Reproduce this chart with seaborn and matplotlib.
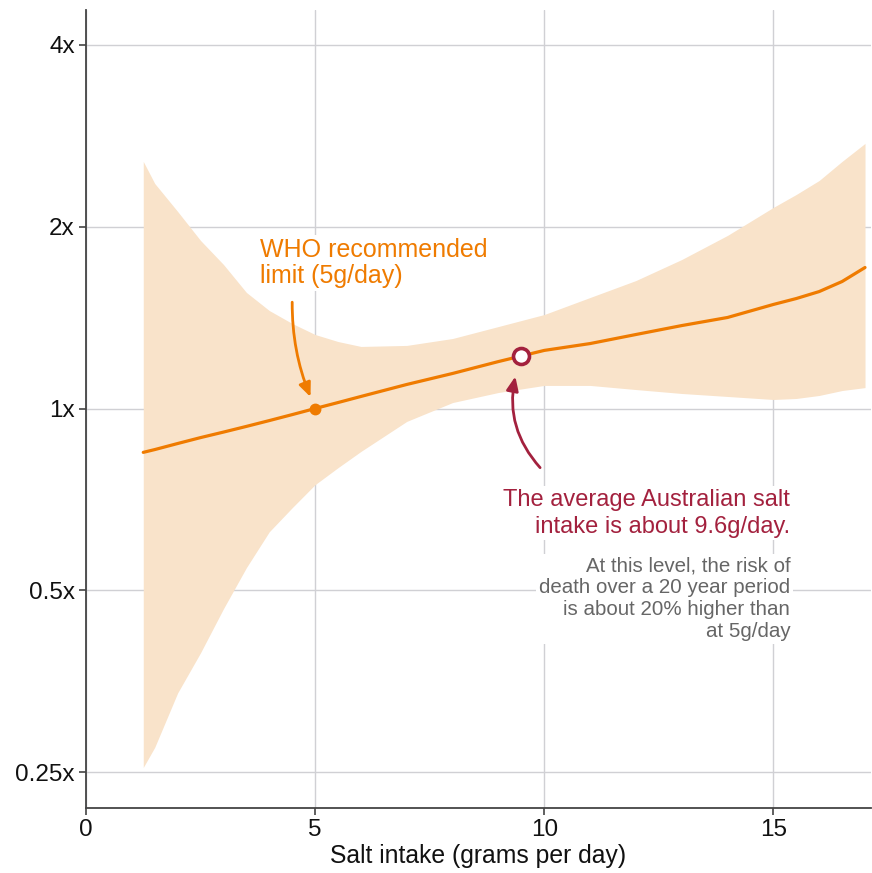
import numpy as np
import pandas as pd
import matplotlib
matplotlib.use("Agg")
import matplotlib.pyplot as plt
import seaborn as sns

# Relative risk of death by daily salt intake, with confidence band
salt_g = [1.25, 1.5, 2, 2.5, 3, 3.5, 4, 4.5, 5, 5.5, 6, 7, 8, 9, 10, 11, 12,
          13, 14, 15, 15.5, 16, 16.5, 17]
risk = [0.846, 0.855, 0.875, 0.895, 0.914, 0.934, 0.955, 0.977, 1.0, 1.023,
        1.047, 1.096, 1.143, 1.196, 1.248, 1.281, 1.326, 1.372, 1.415, 1.487,
        1.521, 1.562, 1.623, 1.712]
risk_upper = [2.566, 2.359, 2.120, 1.898, 1.732, 1.557, 1.453, 1.383, 1.326,
              1.291, 1.267, 1.272, 1.306, 1.367, 1.431, 1.527, 1.629, 1.765,
              1.935, 2.153, 2.262, 2.386, 2.566, 2.748]
risk_lower = [0.2544, 0.2747, 0.338, 0.394, 0.466, 0.545, 0.625, 0.685, 0.748,
              0.798, 0.849, 0.952, 1.023, 1.063, 1.092, 1.092, 1.075, 1.059,
              1.047, 1.035, 1.039, 1.051, 1.071, 1.083]

who_limit = 5.0
who_risk = 1.0
aus_intake = 9.5
aus_risk = 1.224

y_ticks = [0.25, 0.5, 1, 2, 4]
y_tick_labels = ["0.25x", "0.5x", "1x", "2x", "4x"]
x_ticks = [0, 5, 10, 15]

ORANGE = "#EF7B00"
BAND = "#F9E3CA"
MAROON = "#A3213E"
GREY_TEXT = "#666666"
SPINE = "#444444"

sns.set_theme(style="whitegrid")
plt.rcParams["font.family"] = ["Liberation Sans", "DejaVu Sans"]

df = pd.DataFrame({"salt": salt_g, "risk": risk,
                   "upper": risk_upper, "lower": risk_lower})

fig = plt.figure(figsize=(8.72, 8.73), dpi=100)
ax = fig.add_axes([0.0986, 0.0745, 0.8997, 0.914])

ax.fill_between(df["salt"], df["lower"], df["upper"], color=BAND, lw=0, zorder=1)
sns.lineplot(data=df, x="salt", y="risk", color=ORANGE, lw=2.3, ax=ax, zorder=3)

ax.plot([who_limit], [who_risk], "o", color=ORANGE, ms=7.5, zorder=4)
ax.plot([aus_intake], [aus_risk], "o", mfc="white", mec=MAROON, mew=2.6, ms=11.5, zorder=5)

ax.set_yscale("log", base=2)
ax.set_ylim(0.218, 4.57)
ax.set_xlim(0, 17.12)
ax.set_yticks(y_ticks)
ax.set_yticklabels(y_tick_labels)
ax.yaxis.set_minor_locator(matplotlib.ticker.NullLocator())
ax.set_xticks(x_ticks)
ax.set_xticklabels([str(t) for t in x_ticks])

ax.grid(True, color="#d0d0d4", lw=1.0)
ax.set_axisbelow(True)
for side in ["top", "right"]:
    ax.spines[side].set_visible(False)
for side in ["left", "bottom"]:
    ax.spines[side].set_color(SPINE)
    ax.spines[side].set_linewidth(1.3)
ax.tick_params(axis="both", which="major", length=5, width=1.2, color=SPINE,
               labelsize=17.5, labelcolor="#111111", pad=3)
ax.tick_params(axis="y", left=True)
ax.tick_params(axis="x", bottom=True)

ax.set_xlabel("Salt intake (grams per day)", fontsize=17.8, color="#111111", labelpad=2)
ax.set_ylabel("")

box = dict(facecolor="white", edgecolor="none", pad=2)

# va="baseline" anchors the last line of a multi-line label
ax.text(3.80, 1.611, "WHO recommended\nlimit (5g/day)", color=ORANGE, fontsize=18,
        ha="left", va="baseline", linespacing=1.12, bbox=box, zorder=6)
ax.annotate("", xy=(4.9, 1.045), xytext=(4.5, 1.5),
            arrowprops=dict(arrowstyle="-|>,head_length=0.7,head_width=0.3",
                            color=ORANGE, lw=2, connectionstyle="arc3,rad=0.1",
                            shrinkA=0, shrinkB=0), zorder=6)

ax.text(15.37, 0.623, "The average Australian salt\nintake is about 9.6g/day.",
        color=MAROON, fontsize=17, ha="right", va="baseline", linespacing=1.3,
        bbox=box, zorder=6)
ax.text(15.37, 0.419,
        "At this level, the risk of\ndeath over a 20 year period\nis about 20% higher than\nat 5g/day",
        color=GREY_TEXT, fontsize=14.8, ha="right", va="baseline", linespacing=1.18,
        bbox=box, zorder=6)
ax.annotate("", xy=(9.37, 1.13), xytext=(9.91, 0.798),
            arrowprops=dict(arrowstyle="-|>,head_length=0.7,head_width=0.3",
                            color=MAROON, lw=2, connectionstyle="arc3,rad=-0.25",
                            shrinkA=0, shrinkB=0), zorder=6)

fig.savefig("out.png", dpi=100)
